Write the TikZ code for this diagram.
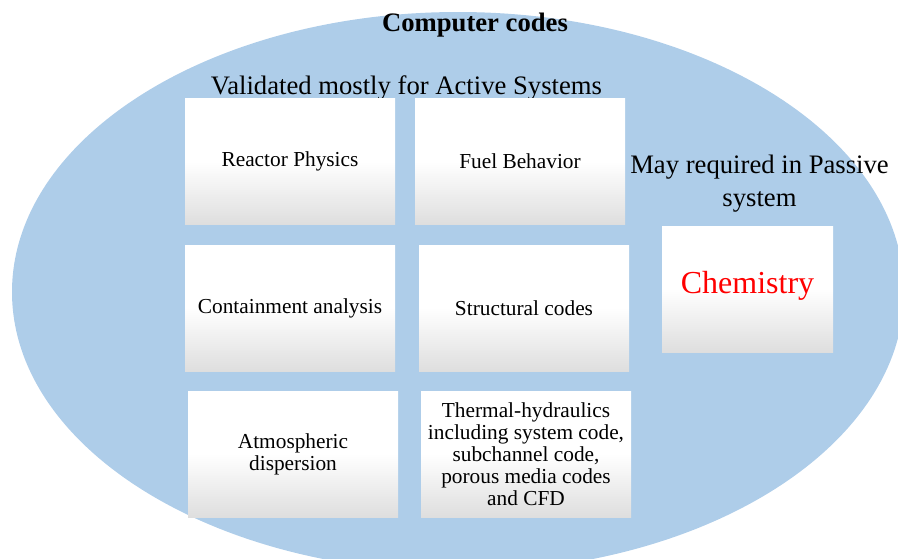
\documentclass[tikz,border=0pt]{standalone}
\usepackage{fontspec}
\setmainfont{Liberation Serif}
\definecolor{ovalblue}{RGB}{174,205,233}
\definecolor{boxgray}{RGB}{222,222,222}
\definecolor{chemred}{RGB}{255,0,0}

\begin{document}
\begin{tikzpicture}[x=0.75pt,y=0.75pt,yscale=-1,xscale=1,
  codebox/.style={inner sep=0pt, align=center, top color=white, bottom color=boxgray, middle color=white,
    minimum width=157.5pt, minimum height=94.5pt, font=\fontsize{16}{16.5}\selectfont},
  bigtext/.style={inner sep=0.75pt, align=center, font=\fontsize{20}{24.8}\selectfont}]
\clip (0,0) rectangle (898,558);

%Shape: Ellipse [id:oval]
\fill [ovalblue] (458,292) ellipse (446 and 280);

% Text Node
\node [bigtext, font=\fontsize{20}{24}\selectfont\bfseries] (title) at (475,25) {Computer codes};
% Text Node
\node [bigtext] (active) at (406.5,88) {Validated mostly for Active Systems};
% Text Node
\node [bigtext] (passive) at (759.5,184) {May required in Passive\\system};

%Shape: Boxes
\node [codebox] (physics) at (290,161.5) {Reactor Physics};
\node [codebox] (fuel) at (520,161.5) {Fuel Behavior};
\node [codebox] (containment) at (290,308) {Containment analysis};
\node [codebox] (structural) at (524,308) {Structural codes};
\node [codebox] (atmos) at (293,454) {Atmospheric\\dispersion};
\node [codebox] (thermal) at (526,454) {Thermal-hydraulics\\including system code,\\subchannel code,\\porous media codes\\and CFD};
\node [codebox, minimum width=128.25pt, font=\fontsize{24}{24}\selectfont, text=chemred, text depth=9.8pt] (chem) at (747.5,289) {Chemistry};

\end{tikzpicture}
\end{document}
